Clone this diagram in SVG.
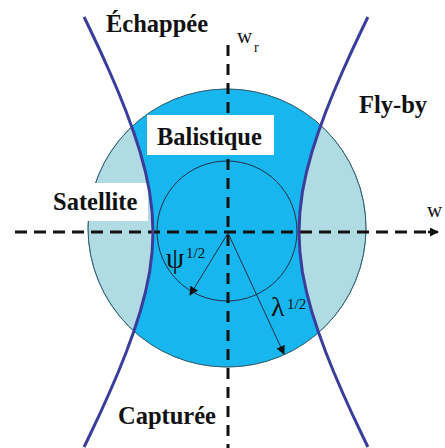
<svg xmlns="http://www.w3.org/2000/svg" width="445" height="448" viewBox="0 0 445 448">
<defs>
<style>
.lbl{font-family:"Liberation Serif","Times New Roman",serif;font-weight:bold;font-size:24.5px;fill:#111}
.sym{font-family:"Liberation Serif","Times New Roman",serif;fill:#111}
.hyp{fill:none;stroke:#3b3d9a;stroke-width:3;stroke-linejoin:round}
.dash{fill:none;stroke:#111;stroke-width:3}
.thin{fill:none;stroke:#1f2f45;stroke-width:1}
.box{fill:#fff}
</style>
<clipPath id="circ"><circle cx="227" cy="228" r="139"/></clipPath>
<marker id="ah" viewBox="0 0 10 10" refX="9" refY="5" markerWidth="9" markerHeight="9" markerUnits="userSpaceOnUse" orient="auto"><path d="M0,0 L10,5 L0,10 Z" fill="#111"/></marker>
</defs>
<g id="regions">
<circle cx="227" cy="228" r="139" fill="#b0dbe3" stroke="#6f9aa3" stroke-width="1"/>
<path clip-path="url(#circ)" fill="#18b6ee" d="M84.1,17 L91.3,32 L100.7,52 L109.7,72 L118.3,92 L126.3,112 L133.6,132 L140.1,152 L145.5,172 L149.6,192 L152.1,212 L153,232 L152.1,252 L149.6,272 L145.5,292 L140.1,312 L133.6,332 L126.3,352 L118.3,372 L109.7,392 L100.7,412 L91.3,432 L84.1,447 L367.9,447 L360.7,432 L351.3,412 L342.3,392 L333.7,372 L325.7,352 L318.4,332 L311.9,312 L306.5,292 L302.4,272 L299.9,252 L299,232 L299.9,212 L302.4,192 L306.5,172 L311.9,152 L318.4,132 L325.7,112 L333.7,92 L342.3,72 L351.3,52 L360.7,32 L367.9,17 Z"/>
<circle cx="227" cy="228" r="139" fill="none" stroke="#2f5f72" stroke-width="1"/>
<circle cx="227" cy="231" r="70" class="thin"/>
</g>
<g id="connectors">
<line x1="15" y1="232" x2="430" y2="232" class="dash" stroke-dasharray="12 7"/>
<line x1="428" y1="232" x2="438" y2="232" stroke="#111" stroke-width="2.5" marker-end="url(#ah)"/>
<line x1="228" y1="45" x2="228" y2="448" class="dash" stroke-dasharray="11 8"/>
<line x1="228" y1="233" x2="190" y2="295" class="thin" stroke="#1a2a40" marker-end="url(#ah)"/>
<line x1="228" y1="233" x2="284" y2="354" class="thin" stroke="#1a2a40" marker-end="url(#ah)"/>
</g>
<g id="boxes">
<rect class="box" x="48" y="183" width="100" height="38"/>
<rect class="box" x="147" y="115" width="127" height="40"/>
</g>
<g id="hyperbolas">
<polyline class="hyp" points="84.1,17 91.3,32 100.7,52 109.7,72 118.3,92 126.3,112 133.6,132 140.1,152 145.5,172 149.6,192 152.1,212 153,232 152.1,252 149.6,272 145.5,292 140.1,312 133.6,332 126.3,352 118.3,372 109.7,392 100.7,412 91.3,432 84.1,447"/>
<polyline class="hyp" points="367.9,17 360.7,32 351.3,52 342.3,72 333.7,92 325.7,112 318.4,132 311.9,152 306.5,172 302.4,192 299.9,212 299,232 299.9,252 302.4,272 306.5,292 311.9,312 318.4,332 325.7,352 333.7,372 342.3,392 351.3,412 360.7,432 367.9,447"/>
</g>
<g id="labels">
<text class="lbl" x="106" y="32">Échappée</text>
<text class="lbl" x="359" y="113">Fly-by</text>
<text class="lbl" x="157" y="145">Balistique</text>
<text class="lbl" x="53" y="210">Satellite</text>
<text class="lbl" x="118" y="424">Capturée</text>
<text class="sym" x="237" y="43" font-size="21">w</text>
<text class="sym" x="254" y="52" font-size="14">r</text>
<text class="sym" x="427" y="217" font-size="21">w</text>
<text class="sym" x="166" y="268" font-size="29">ψ</text>
<text class="sym" x="186" y="258" font-size="15" fill="#1f3f50">1/2</text>
<text class="sym" x="271" y="316" font-size="28">λ</text>
<text class="sym" x="287" y="309" font-size="15" fill="#1f3f50">1/2</text>
</g>
</svg>
